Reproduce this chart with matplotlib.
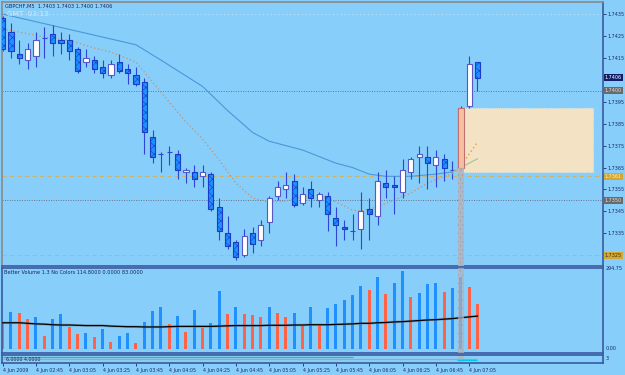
import matplotlib
matplotlib.use("Agg")
import matplotlib.pyplot as plt
import numpy as np
from matplotlib.patches import Rectangle
from matplotlib.transforms import blended_transform_factory

# GBPCHF M5, 4 Jun 2009, bar 0 = 02:25
opens = [1.7433, 1.7427, 1.7417, 1.7414, 1.7416, 1.7424, 1.7426, 1.7423, 1.7423, 1.7419,
         1.7413, 1.7414, 1.7411, 1.7407, 1.7413, 1.7410, 1.7407, 1.7404, 1.7379, 1.7371,
         1.7372, 1.7371, 1.7363, 1.7363, 1.7361, 1.7362, 1.7347, 1.7335, 1.7331, 1.7325,
         1.7335, 1.7332, 1.7340, 1.7352, 1.7355, 1.7359, 1.7349, 1.7355, 1.7350, 1.7352,
         1.7342, 1.7338, 1.7336, 1.7337, 1.7346, 1.7343, 1.7358, 1.7357, 1.7354, 1.7363,
         1.7370, 1.7370, 1.7366, 1.7369, 1.7364, 1.7365, 1.7393, 1.7413]
highs = [1.7434, 1.7431, 1.7423, 1.7422, 1.7427, 1.7429, 1.7430, 1.7427, 1.7426, 1.7420,
         1.7419, 1.7416, 1.7414, 1.7414, 1.7417, 1.7412, 1.7411, 1.7406, 1.7382, 1.7372,
         1.7375, 1.7373, 1.7365, 1.7366, 1.7366, 1.7363, 1.7351, 1.7343, 1.7332, 1.7337,
         1.7338, 1.7341, 1.7352, 1.7359, 1.7363, 1.7362, 1.7356, 1.7359, 1.7354, 1.7354,
         1.7347, 1.7341, 1.7344, 1.7354, 1.7351, 1.7363, 1.7364, 1.7361, 1.7369, 1.7370,
         1.7375, 1.7375, 1.7373, 1.7371, 1.7368, 1.7393, 1.7416, 1.7413]
lows = [1.7418, 1.7415, 1.7412, 1.7410, 1.7411, 1.7415, 1.7416, 1.7417, 1.7414, 1.7408,
        1.7411, 1.7408, 1.7406, 1.7406, 1.7408, 1.7403, 1.7402, 1.7371, 1.7367, 1.7363,
        1.7366, 1.7360, 1.7358, 1.7356, 1.7356, 1.7345, 1.7332, 1.7328, 1.7323, 1.7324,
        1.7326, 1.7329, 1.7335, 1.7350, 1.7351, 1.7347, 1.7348, 1.7347, 1.7347, 1.7336,
        1.7329, 1.7332, 1.7332, 1.7328, 1.7332, 1.7339, 1.7351, 1.7344, 1.7351, 1.7360,
        1.7358, 1.7355, 1.7356, 1.7359, 1.7360, 1.7364, 1.7392, 1.7400]
closes = [1.7419, 1.7418, 1.7415, 1.7419, 1.7423, 1.7424, 1.7422, 1.7422, 1.7418, 1.7409,
          1.7415, 1.7410, 1.7408, 1.7412, 1.7409, 1.7408, 1.7403, 1.7381, 1.7370, 1.7371,
          1.7372, 1.7364, 1.7364, 1.7360, 1.7363, 1.7346, 1.7336, 1.7329, 1.7324, 1.7334,
          1.7330, 1.7339, 1.7351, 1.7356, 1.7357, 1.7348, 1.7353, 1.7351, 1.7353, 1.7344,
          1.7339, 1.7337, 1.7336, 1.7345, 1.7344, 1.7359, 1.7356, 1.7356, 1.7364, 1.7369,
          1.7371, 1.7367, 1.7370, 1.7365, 1.7364, 1.7392, 1.7412, 1.7406]

volumes = [93, 134, 131, 107, 116, 47, 108, 126, 80, 56,
           59, 44, 73, 25, 47, 59, 23, 98, 137, 152,
           90, 119, 62, 141, 76, 94, 210, 126, 151, 126,
           124, 114, 150, 130, 116, 130, 83, 153, 83, 148,
           164, 177, 195, 228, 213, 258, 198, 237, 279, 188,
           203, 235, 238, 204, 218, 259, 223, 163]
vol_kind = "rbrrbrbbrr" "brbrbbrbbb" "rbrbrbbrbr" "rrbrrbrbrb" "bbbbrbrbbr" "bbbrbbrr"
vol_avg = [95, 95, 95, 93, 91, 90, 88, 87, 87, 86,
           85, 85, 85, 83, 82, 81, 81, 80, 80, 80,
           81, 82, 82, 82, 82, 82, 83, 84, 85, 85,
           85, 85, 86, 86, 86, 87, 87, 88, 88, 88,
           89, 90, 91, 93, 93, 95, 96, 98, 99, 101,
           103, 105, 106, 108, 110, 113, 116, 119]

# moving averages read at some bars
slow_idx = [0, 16, 19, 24, 27, 30, 32, 34, 36, 38, 40, 42, 44, 46, 49, 52, 54]
slow_val = [1.7435, 1.7421, 1.7414, 1.7402, 1.7391, 1.7381, 1.7377, 1.7375, 1.7373,
            1.7370, 1.7367, 1.7365, 1.7362, 1.7361, 1.7361, 1.7362, 1.7363]
slow_proj_idx = [54, 55, 57]
slow_proj_val = [1.7363, 1.7365, 1.7369]
fast_idx = [0, 6, 8, 11, 13, 16, 19, 22, 24, 26, 28, 30, 32, 34, 36, 38, 40, 42, 43,
            45, 47, 49, 51, 53, 54]
fast_val = [1.74282, 1.74239, 1.74231, 1.74195, 1.74177, 1.74131, 1.73994, 1.73858,
            1.73780, 1.73684, 1.73579, 1.73511, 1.73493, 1.73497, 1.73516, 1.73525,
            1.73493, 1.73456, 1.73452, 1.73470, 1.73502, 1.73534, 1.73579, 1.73611, 1.73620]
fast_proj_idx = [54, 55, 57]
fast_proj_val = [1.73620, 1.73657, 1.73766]

time_labels = ["4 Jun 2009", "4 Jun 02:45", "4 Jun 03:05", "4 Jun 03:25", "4 Jun 03:45",
               "4 Jun 04:05", "4 Jun 04:25", "4 Jun 04:45", "4 Jun 05:05", "4 Jun 05:25",
               "4 Jun 05:45", "4 Jun 06:05", "4 Jun 06:25", "4 Jun 06:45", "4 Jun 07:05"]

zone_bar = 55
zone_top, zone_bot = 1.7392, 1.7363
zone_end = 70.9
dotted_levels = [1.7400, 1.7350]
dashed_levels = [1.7361, 1.7325]
price_ticks = [1.7335, 1.7345, 1.7355, 1.7365, 1.7375, 1.7385, 1.7395, 1.7415, 1.7425, 1.7435]

BG = "#87CEFA"
BORDER = "#3A5AA0"
TXT = "#1A2A6A"
W, H = 625, 375


def px_box(x0, y0, x1, y1):
    return [x0 / W, 1 - y1 / H, (x1 - x0) / W, (y1 - y0) / H]


fig = plt.figure(figsize=(6.25, 3.75), dpi=100)
fig.patch.set_facecolor(BG)
plt.rcParams["hatch.linewidth"] = 0.4

ax = fig.add_axes(px_box(2, 2, 603, 266))
axv = fig.add_axes(px_box(2, 268, 603, 353))
axs = fig.add_axes(px_box(2, 355, 603, 363))
xlim = (-0.08, 72.07)
for a in (ax, axv, axs):
    a.set_facecolor(BG)
    a.set_xlim(*xlim)
    for s in a.spines.values():
        s.set_color(BORDER)
        s.set_linewidth(1.2)
ax.spines["left"].set_color("#8A8A8A")
ax.spines["top"].set_color("#8A8A8A")

# ---- price panel
o, h, l, c = map(np.array, (opens, highs, lows, closes))
x = np.arange(len(o))
down = c < o
up = c > o
flat = c == o
ax.vlines(x, l, h, color="#2F45D8", lw=0.8, zorder=3)
ax.bar(x[down], (o - c)[down], bottom=c[down], width=0.62, color="#1E90FF",
       edgecolor="#1A3CC8", lw=0.8, hatch="xxxx", zorder=4)
ax.bar(x[up], (c - o)[up], bottom=o[up], width=0.62, color="white",
       edgecolor="#5858C8", lw=0.8, zorder=4)
ax.hlines(o[flat], x[flat] - 0.3, x[flat] + 0.3, color="#2F45D8", lw=0.8, zorder=4)

ax.plot(slow_idx, slow_val, color="#4A98D8", lw=0.8, zorder=2)
ax.plot(slow_proj_idx, slow_proj_val, color="#98C890", lw=0.8, zorder=5)
ax.plot(fast_idx, fast_val, color="#C89068", lw=0.9, ls=(0, (1, 2)), zorder=2)
ax.plot(fast_proj_idx, fast_proj_val, color="#E0A030", lw=1.0, ls=(0, (1, 2)), zorder=5)

ax.axhline(1.7435, color="#C8E4F8", lw=0.7, ls=(0, (1, 3)), zorder=1)
for lv in dotted_levels:
    ax.axhline(lv, color="#6A7488", lw=0.7, ls=(0, (1, 1.5)), zorder=1)
for lv in dashed_levels:
    ax.axhline(lv, color="#D8B050", lw=0.6, ls=(0, (5, 4)), zorder=1)

# supply/demand zone
ax.add_patch(Rectangle((zone_bar - 0.36, zone_bot), zone_end - zone_bar + 0.36,
                       zone_top - zone_bot, facecolor="#F4E2C4", edgecolor="#F8EED8",
                       lw=0.6, ls=":", zorder=1.5))
ax.add_patch(Rectangle((zone_bar - 0.36, closes[zone_bar - 1] + 0.0001), 0.72,
                       zone_top - closes[zone_bar - 1] - 0.0001, facecolor="#F7BFA2",
                       edgecolor="#C07070", lw=0.8, zorder=6))
ylim_p = (1.73201, 1.74405)
ax.set_ylim(*ylim_p)
ax.axvspan(zone_bar - 0.36, zone_bar + 0.36, ymin=0,
           ymax=(closes[zone_bar - 1] + 0.0001 - ylim_p[0]) / (ylim_p[1] - ylim_p[0]),
           facecolor="#B4B4BC", edgecolor="#9C9CA8", hatch="....", lw=0, alpha=0.85, zorder=6)

ax.yaxis.tick_right()
ax.set_yticks(price_ticks)
ax.set_yticklabels([f"{v:.4f}" for v in price_ticks])
ax.tick_params(axis="y", length=2, width=0.6, pad=1, labelsize=3.5, colors=TXT)
ax.set_xticks([])

tr = blended_transform_factory(ax.transAxes, ax.transData)
boxes = [(1.7406, "#101E6A", "white"), (1.7400, "#6A6A6A", "#E0E0E0"),
         (1.7361, "#D4A830", "#F8F0C0"), (1.7350, "#6A6A6A", "#E0E0E0"),
         (1.7325, "#D4A830", "#303030")]
for val, bg, fg in boxes:
    ax.text(1.003, val, f"{val:.4f}", transform=tr, fontsize=3.5, color=fg, va="center",
            ha="left", bbox=dict(boxstyle="square,pad=0.2", fc=bg, ec="none"), clip_on=False)

# ---- volume panel
vcol = ["#FF6347" if k == "r" else "#1E90FF" for k in vol_kind]
axv.bar(x, volumes, width=0.36, color=vcol, zorder=2)
axv.plot(x, vol_avg, color="#6A7A8A", lw=1.8, alpha=0.5, zorder=3)
axv.plot(x, vol_avg, color="black", lw=0.9, zorder=4)
axv.set_ylim(-13.25, 291.17)
axv.axvspan(zone_bar - 0.36, zone_bar + 0.36, facecolor="#B4B4BC", edgecolor="#9C9CA8",
            hatch="....", lw=0, alpha=0.7, zorder=5)
axv.set_xticks([])
axv.set_yticks([])

# ---- small panel
axs.set_ylim(0, 8)
axs.hlines(6, 0, 42, color="#40C040", lw=0.8)
axs.hlines(4, 0, 57, color="#E0A020", lw=0.8)
axs.hlines(3, 54.6, 57, color="#00C8F0", lw=0.9)
axs.axvspan(zone_bar - 0.36, zone_bar + 0.36, facecolor="#B4B4BC", alpha=0.7, lw=0)
axs.set_yticks([])
axs.set_xticks(np.arange(0, 57, 4))
axs.set_xticklabels(time_labels)
axs.tick_params(axis="x", length=2, width=0.6, pad=1.5, labelsize=3.4, colors=TXT)
for lab in axs.get_xticklabels():
    lab.set_horizontalalignment("left")

# ---- captions
fig.text(5 / W, 1 - 6 / H, "GBPCHF,M5  1.7403 1.7403 1.7400 1.7406", fontsize=3.6,
         color="#1A2450", va="center")
fig.text(7 / W, 1 - 14.5 / H, "GMT  03:13", fontsize=5.2, color="#D8E6F2", va="center")
fig.text(4 / W, 1 - 273 / H, "Better Volume 1.3 No Colors 114.8000 0.0000 83.0000",
         fontsize=3.6, color="#1A2450", va="center")
fig.text(6 / W, 1 - 359.5 / H, "6.0000 4.0000", fontsize=3.4, color="#1A2450", va="center")
fig.text(606 / W, 1 - 268 / H, "294.75", fontsize=3.5, color=TXT, va="center")
fig.text(606 / W, 1 - 349 / H, "0.00", fontsize=3.5, color=TXT, va="center")
fig.text(606 / W, 1 - 359 / H, "3", fontsize=3.5, color=TXT, va="center")

fig.savefig("out.png", dpi=100, facecolor=BG)
